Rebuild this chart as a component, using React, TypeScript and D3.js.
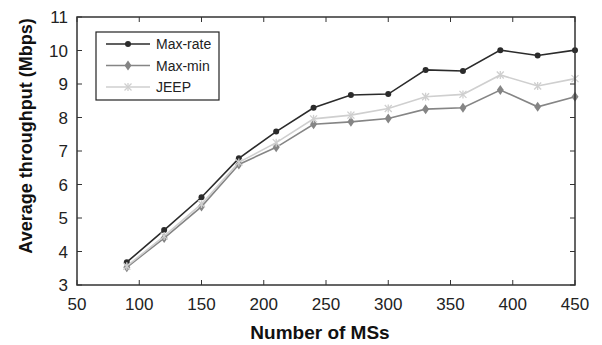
import * as d3 from 'd3';

const msCounts = [90, 120, 150, 180, 210, 240, 270, 300, 330, 360, 390, 420, 450];
const maxRate = [3.68, 4.64, 5.62, 6.78, 7.58, 8.29, 8.67, 8.7, 9.42, 9.39, 10.01, 9.85, 10.01];
const maxMin = [3.53, 4.4, 5.34, 6.6, 7.11, 7.8, 7.87, 7.97, 8.25, 8.29, 8.82, 8.32, 8.62];
const jeep = [3.56, 4.46, 5.42, 6.66, 7.25, 7.96, 8.07, 8.27, 8.62, 8.69, 9.27, 8.94, 9.16];
const xTicks = [50, 100, 150, 200, 250, 300, 350, 400, 450];
const yTicks = [3, 4, 5, 6, 7, 8, 9, 10, 11];

type Marker = 'circle' | 'diamond' | 'star';

const series: { name: string; values: number[]; color: string; marker: Marker }[] = [
  { name: 'Max-rate', values: maxRate, color: '#2b2b2b', marker: 'circle' },
  { name: 'Max-min', values: maxMin, color: '#858585', marker: 'diamond' },
  { name: 'JEEP', values: jeep, color: '#cfcfcf', marker: 'star' },
];

function MarkerShape({ type, x, y, color }: { type: Marker; x: number; y: number; color: string }) {
  if (type === 'circle') return <circle cx={x} cy={y} r={3} fill={color} />;
  if (type === 'diamond')
    return <path d={`M${x},${y - 5}L${x + 3.5},${y}L${x},${y + 5}L${x - 3.5},${y}Z`} fill={color} />;
  // asterisk-like marker
  return (
    <g stroke={color} strokeWidth={1.3}>
      <line x1={x - 3.5} y1={y - 3.5} x2={x + 3.5} y2={y + 3.5} />
      <line x1={x - 3.5} y1={y + 3.5} x2={x + 3.5} y2={y - 3.5} />
      <line x1={x} y1={y - 4} x2={x} y2={y + 4} />
    </g>
  );
}

export default function App() {
  const width = 602;
  const height = 345;
  const left = 77;
  const right = 575;
  const top = 17;
  const bottom = 285;

  const x = d3.scaleLinear().domain([50, 450]).range([left, right]);
  const y = d3.scaleLinear().domain([3, 11]).range([bottom, top]);

  const line = d3
    .line<number>()
    .x((_, i) => x(msCounts[i]))
    .y((d) => y(d));

  const font = 'Liberation Sans, Arial, sans-serif';
  const tick = 5;

  return (
    <svg width={width} height={height} style={{ position: 'absolute', left: 0, top: 0 }} fontFamily={font}>
      <rect width={width} height={height} fill="white" />

      {/* ticks inward on all four sides */}
      {xTicks.map((t) => (
        <g key={`xt-${t}`} stroke="#333" strokeWidth={1}>
          <line x1={x(t)} x2={x(t)} y1={bottom} y2={bottom - tick} />
          <line x1={x(t)} x2={x(t)} y1={top} y2={top + tick} />
        </g>
      ))}
      {yTicks.map((t) => (
        <g key={`yt-${t}`} stroke="#333" strokeWidth={1}>
          <line x1={left} x2={left + tick} y1={y(t)} y2={y(t)} />
          <line x1={right} x2={right - tick} y1={y(t)} y2={y(t)} />
        </g>
      ))}

      {/* lines */}
      {series.map((s) => (
        <path key={s.name} d={line(s.values) ?? ''} fill="none" stroke={s.color} strokeWidth={1.6} />
      ))}
      {series.map((s) =>
        s.values.map((v, i) => (
          <MarkerShape key={`${s.name}-${i}`} type={s.marker} x={x(msCounts[i])} y={y(v)} color={s.color} />
        ))
      )}

      <rect x={left} y={top} width={right - left} height={bottom - top} fill="none" stroke="#333" strokeWidth={1.5} />

      {/* tick labels */}
      {xTicks.map((t) => (
        <text key={`xl-${t}`} x={x(t)} y={bottom + 25} textAnchor="middle" fontSize={17} fill="#222">
          {t}
        </text>
      ))}
      {yTicks.map((t) => (
        <text key={`yl-${t}`} x={left - 9} y={y(t) + 6} textAnchor="end" fontSize={17} fill="#222">
          {t}
        </text>
      ))}

      {/* axis titles */}
      <text x={320} y={339} textAnchor="middle" fontSize={19} fontWeight="bold" fill="#111">
        Number of MSs
      </text>
      <text
        transform={`translate(32, 136) rotate(-90)`}
        textAnchor="middle"
        fontSize={18}
        fontWeight="bold"
        fill="#111"
      >
        Average throughput (Mbps)
      </text>

      {/* legend */}
      <g transform="translate(96, 32)">
        <rect x={0} y={0} width={123} height={68} fill="white" stroke="#222" strokeWidth={1.2} />
        {series.map((s, i) => (
          <g key={`lg-${s.name}`} transform={`translate(0, ${12 + i * 21.5})`}>
            <line x1={10} x2={54} y1={0} y2={0} stroke={s.color} strokeWidth={1.6} />
            <MarkerShape type={s.marker} x={32} y={0} color={s.color} />
            <text x={60} y={5} fontSize={14} fill="#222">
              {s.name}
            </text>
          </g>
        ))}
      </g>
    </svg>
  );
}
